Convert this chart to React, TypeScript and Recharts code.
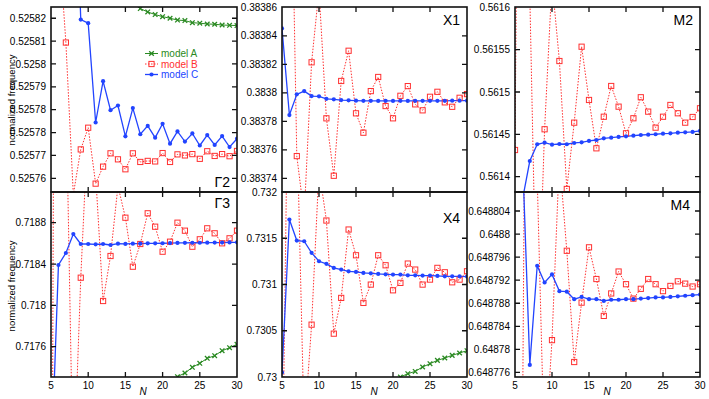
import React from 'react';
import { LineChart, Line, XAxis, YAxis } from 'recharts';

// ---------- categories ----------
const N = [5, 6, 7, 8, 9, 10, 11, 12, 13, 14, 15, 16, 17, 18, 19, 20, 21, 22, 23, 24, 25, 26, 27, 28, 29, 30];
const xTicks = [5, 10, 15, 20, 25, 30];

// ---------- Γ2 ----------
const g2A = [null, null, null, null, null, null, null, null, null, 0.5258308, 0.525828, 0.5258257, 0.5258237, 0.5258224, 0.5258214, 0.5258206, 0.52582, 0.5258193, 0.5258191, 0.5258183, 0.5258181, 0.5258178, 0.5258177, 0.5258174, 0.5258173, 0.5258172];
const g2B = [0.52595, 0.5258523, 0.5258107, 0.5257525, 0.5257698, 0.5257781, 0.5257567, 0.5257632, 0.5257683, 0.525766, 0.5257622, 0.5257683, 0.525765, 0.5257654, 0.5257652, 0.5257684, 0.525765, 0.5257679, 0.5257675, 0.525768, 0.5257662, 0.5257691, 0.5257673, 0.525768, 0.5257672, 0.5257692];
const g2C = [0.526, 0.52595, 0.52592, 0.5259, 0.5258195, 0.5258181, 0.5257801, 0.5257959, 0.5257848, 0.5257866, 0.5257748, 0.5257856, 0.5257756, 0.5257788, 0.5257743, 0.5257796, 0.525772, 0.5257767, 0.5257728, 0.5257759, 0.5257713, 0.5257753, 0.5257715, 0.5257749, 0.5257707, 0.5257739];
const g2Ticks = [0.52582, 0.52581125, 0.5258025, 0.52579375, 0.525785, 0.52577625, 0.5257675, 0.52575875];
const g2Labels = ['0.52582', '0.52581', '0.5258', '0.52579', '0.52578', '0.52578', '0.52577', '0.52576'];

// ---------- X1 ----------
const x1B = [0.38395, 0.3840412, 0.3837556, 0.3837142, 0.3838214, 0.3838721, 0.3837821, 0.3837418, 0.3838083, 0.3838295, 0.3837856, 0.383772, 0.3838012, 0.3838111, 0.3837907, 0.3837821, 0.3837979, 0.3838047, 0.3837919, 0.3837877, 0.3837972, 0.3838007, 0.3837933, 0.3837902, 0.3837965, 0.3837991];
const x1C = [0.3838452, 0.3837844, 0.3837989, 0.3838012, 0.3837977, 0.3837975, 0.3837958, 0.3837954, 0.3837949, 0.3837947, 0.3837945, 0.3837944, 0.3837944, 0.3837943, 0.3837944, 0.3837943, 0.3837944, 0.3837943, 0.3837944, 0.3837944, 0.3837944, 0.3837944, 0.3837944, 0.3837945, 0.3837945, 0.3837945];
const x1Ticks = [0.38386, 0.38384, 0.38382, 0.3838, 0.38378, 0.38376, 0.38374];
const x1Labels = ['0.38386', '0.38384', '0.38382', '0.3838', '0.38378', '0.38376', '0.38374'];

// ---------- M2 ----------
const m2B = [0.5614315, 0.5625, 0.5616145, 0.5611954, 0.561456, 0.561631, 0.5615366, 0.5613855, 0.5614638, 0.5615535, 0.5614906, 0.5614335, 0.5614708, 0.5615071, 0.5614827, 0.5614512, 0.561469, 0.5614938, 0.5614768, 0.5614579, 0.5614708, 0.5614847, 0.5614749, 0.5614638, 0.5614705, 0.5614808];
const m2C = [0.5613, 0.5613725, 0.5614185, 0.5614383, 0.5614402, 0.5614378, 0.5614386, 0.5614383, 0.5614398, 0.5614406, 0.5614422, 0.5614433, 0.5614453, 0.5614461, 0.5614469, 0.5614477, 0.5614484, 0.5614492, 0.5614496, 0.5614501, 0.5614508, 0.5614512, 0.561452, 0.5614524, 0.5614528, 0.561454];
const m2Ticks = [0.5616, 0.56155, 0.5615, 0.56145, 0.5614];
const m2Labels = ['0.5616', '0.56155', '0.5615', '0.56145', '0.5614'];

// ---------- Γ3 ----------
const g3A = [null, null, null, null, null, null, null, null, null, null, null, null, null, null, null, 0.717171, 0.7172486, 0.7173096, 0.7173454, 0.7174006, 0.7174393, 0.7174877, 0.7175128, 0.7175612, 0.7175902, 0.7176232];
const g3B = [0.712884, 0.732569, 0.7201375, 0.7162615, 0.7182677, 0.7198036, 0.7192665, 0.7180422, 0.7184777, 0.7191552, 0.7188484, 0.7183742, 0.7185939, 0.718891, 0.7187613, 0.7185193, 0.7186161, 0.7188, 0.7187226, 0.7185677, 0.7186393, 0.7187458, 0.7186974, 0.7186006, 0.718649, 0.7187226];
const g3C = [0.7163776, 0.7183906, 0.7185068, 0.7186906, 0.7185939, 0.7185939, 0.718591, 0.718594, 0.7185842, 0.7185968, 0.718595, 0.718597, 0.718598, 0.7186, 0.7186, 0.718601, 0.718603, 0.718604, 0.718605, 0.718606, 0.718606, 0.718607, 0.718608, 0.718608, 0.718609, 0.71861];
const g3Ticks = [0.7188, 0.7184, 0.718, 0.7176];
const g3Labels = ['0.7188', '0.7184', '0.718', '0.7176'];

// ---------- X4 ----------
const x4A = [null, null, null, null, null, null, null, null, null, null, null, null, null, null, null, 0.729955, 0.73, 0.7300357, 0.7300606, 0.7301082, 0.7301439, 0.7301797, 0.7302056, 0.7302338, 0.7302598, 0.7302846];
const x4B = [0.7285, 0.7345, 0.7328, 0.7294296, 0.730566, 0.7322479, 0.7316916, 0.7304686, 0.730855, 0.7315942, 0.7313161, 0.7308009, 0.730999, 0.7313161, 0.7312078, 0.7309373, 0.7310174, 0.7312262, 0.7311613, 0.730999, 0.7310531, 0.7311797, 0.7311321, 0.7310239, 0.7310531, 0.7311429];
const x4C = [0.7300498, 0.7317025, 0.7314752, 0.7314676, 0.731342, 0.7312511, 0.731223, 0.7311797, 0.7311613, 0.7311429, 0.7311364, 0.7311256, 0.7311213, 0.7311148, 0.7311104, 0.7311072, 0.7311072, 0.7310996, 0.7310996, 0.7310964, 0.7310964, 0.7310931, 0.7310888, 0.7310888, 0.7310888, 0.7310855];
const x4Ticks = [0.732, 0.7315, 0.731, 0.7305, 0.73];
const x4Labels = ['0.732', '0.7315', '0.731', '0.7305', '0.73'];

// ---------- M4 ----------
const m4B = [0.6487, 0.648763, 0.64895, 0.6488098, 0.6487608, 0.6487816, 0.6488132, 0.6487971, 0.6487778, 0.6487881, 0.6487977, 0.6487922, 0.6487858, 0.6487897, 0.6487935, 0.6487913, 0.6487888, 0.6487905, 0.6487922, 0.6487913, 0.6487901, 0.648791, 0.6487918, 0.6487914, 0.6487909, 0.6487913];
const m4C = [0.64882, 0.6488142, 0.6487773, 0.6487945, 0.6487916, 0.648793, 0.6487901, 0.64879, 0.6487887, 0.6487891, 0.6487887, 0.6487887, 0.6487884, 0.6487886, 0.6487886, 0.6487887, 0.6487887, 0.6487888, 0.6487889, 0.648789, 0.648789, 0.6487891, 0.6487892, 0.6487893, 0.6487894, 0.6487895];
const m4Ticks = [0.648804, 0.6488, 0.648796, 0.648792, 0.648788, 0.648784, 0.64878, 0.648776];
const m4Labels = ['0.648804', '0.6488', '0.648796', '0.648792', '0.648788', '0.648784', '0.64878', '0.648776'];

const seriesNames = ['model A', 'model B', 'model C'];
const panelNames = ['Γ2', 'X1', 'M2', 'Γ3', 'X4', 'M4'];

// ---------- styling ----------
const GREEN = '#2a8a22';
const RED = '#ff3030';
const BLUE = '#2244ff';
const FONT = '"Liberation Sans", Arial, Helvetica, sans-serif';

const plotLefts = [51, 282, 515];
const plotWidths = [186, 185, 185];
const plotTops = [7, 192];
const PLOT_H = 185;
const TICK_LEN = 5;

const bad = (v: any) => v == null || Number.isNaN(v);

const crossDot = (p: any) => {
  const { cx, cy, index } = p;
  if (bad(cx) || bad(cy)) return <g key={`a${index}`} />;
  const s = 2.3;
  return (
    <path key={`a${index}`} d={`M${cx - s},${cy - s}L${cx + s},${cy + s}M${cx - s},${cy + s}L${cx + s},${cy - s}`}
      stroke={GREEN} strokeWidth={1.3} fill="none" />
  );
};
const squareDot = (p: any) => {
  const { cx, cy, index } = p;
  if (bad(cx) || bad(cy)) return <g key={`b${index}`} />;
  const s = 2.6;
  return <rect key={`b${index}`} x={cx - s} y={cy - s} width={2 * s} height={2 * s} stroke={RED} strokeWidth={1} fill="none" />;
};
const circleDot = (p: any) => {
  const { cx, cy, index } = p;
  if (bad(cx) || bad(cy)) return <g key={`c${index}`} />;
  return <circle key={`c${index}`} cx={cx} cy={cy} r={2.1} fill={BLUE} stroke="none" />;
};

type PanelCfg = {
  A: (number | null)[] | null;
  B: number[];
  C: number[];
  domain: [number, number];
  ticks: number[];
  labels: string[];
  col: number;
  row: number;
};

const panels: PanelCfg[] = [
  { A: g2A, B: g2B, C: g2C, domain: [0.5257535, 0.5258243], ticks: g2Ticks, labels: g2Labels, col: 0, row: 0 },
  { A: null, B: x1B, C: x1C, domain: [0.3837304, 0.3838602], ticks: x1Ticks, labels: x1Labels, col: 1, row: 0 },
  { A: null, B: m2B, C: m2C, domain: [0.5613819, 0.5616004], ticks: m2Ticks, labels: m2Labels, col: 2, row: 0 },
  { A: g3A, B: g3B, C: g3C, domain: [0.7173067, 0.7190971], ticks: g3Ticks, labels: g3Labels, col: 0, row: 1 },
  { A: x4A, B: x4B, C: x4C, domain: [0.73, 0.732], ticks: x4Ticks, labels: x4Labels, col: 1, row: 1 },
  { A: null, B: m4B, C: m4C, domain: [0.6487752, 0.6488073], ticks: m4Ticks, labels: m4Labels, col: 2, row: 1 },
];

function Panel({ cfg }: { cfg: PanelCfg }) {
  const data = N.map((n, i) => ({
    N: n,
    A: cfg.A ? cfg.A[i] : null,
    B: cfg.B[i],
    C: cfg.C[i],
  }));
  const fmt = (v: number) => {
    let best = 0;
    cfg.ticks.forEach((t, i) => {
      if (Math.abs(t - v) < Math.abs(cfg.ticks[best] - v)) best = i;
    });
    return cfg.labels[best];
  };
  const yw = cfg.col === 0 ? 51 : 60;
  const left = plotLefts[cfg.col] - yw;
  const width = yw + plotWidths[cfg.col] + 8;
  const isBottom = cfg.row === 1;
  const mt = isBottom ? 9 : 6; // + 1px top axis
  const xh = isBottom ? 22 : 1;
  const mb = isBottom ? 0 : 4;
  const top = plotTops[cfg.row] - mt - 1;
  const height = mt + 1 + PLOT_H + xh + mb;
  const tickStyle = { fontSize: 10, fill: '#000' };
  return (
    <div style={{ position: 'absolute', left, top, width, height }}>
      <LineChart width={width} height={height} data={data} margin={{ top: mt, right: 7, bottom: mb, left: 0 }}
        style={{ fontFamily: FONT }}>
        <XAxis xAxisId="b" dataKey="N" type="number" domain={[5, 30]} ticks={xTicks} allowDataOverflow interval={0}
          orientation="bottom" height={xh} tick={isBottom ? tickStyle : false} tickSize={0} tickMargin={5}
          axisLine={false} tickLine={false} />
        <XAxis xAxisId="t" dataKey="N" type="number" domain={[5, 30]} ticks={xTicks} allowDataOverflow interval={0}
          orientation="top" height={1} tick={false} axisLine={false} tickLine={false} />
        <YAxis yAxisId="l" type="number" domain={cfg.domain} ticks={cfg.ticks} allowDataOverflow interval={0}
          width={yw} tick={tickStyle} tickFormatter={fmt} tickSize={0} tickMargin={5}
          axisLine={false} tickLine={false} />
        <YAxis yAxisId="r" orientation="right" type="number" domain={cfg.domain} ticks={cfg.ticks} allowDataOverflow interval={0}
          width={1} tick={false} axisLine={false} tickLine={false} />
        {cfg.A && (
          <Line xAxisId="b" yAxisId="l" type="linear" dataKey="A" stroke={GREEN} strokeWidth={1} dot={crossDot}
            activeDot={false} isAnimationActive={false} connectNulls={false} />
        )}
        <Line xAxisId="b" yAxisId="l" type="linear" dataKey="B" stroke={RED} strokeWidth={1} strokeDasharray="1.5 1.5"
          dot={squareDot} activeDot={false} isAnimationActive={false} />
        <Line xAxisId="b" yAxisId="l" type="linear" dataKey="C" stroke={BLUE} strokeWidth={1.3} dot={circleDot}
          activeDot={false} isAnimationActive={false} />
      </LineChart>
    </div>
  );
}

// frame + inward ticks for a panel (same linear mapping as the chart's scales)
function Frame({ cfg }: { cfg: PanelCfg }) {
  const L = plotLefts[cfg.col];
  const W = plotWidths[cfg.col];
  const T = plotTops[cfg.row];
  const H = PLOT_H;
  const [lo, hi] = cfg.domain;
  const xs = xTicks.map((t) => L + ((t - 5) / 25) * W).filter((x) => x > L + 1 && x < L + W - 1);
  const ys = cfg.ticks.map((t) => T + ((hi - t) / (hi - lo)) * H).filter((y) => y > T + 1 && y < T + H - 1);
  const segs: string[] = [];
  xs.forEach((x) => {
    segs.push(`M${x},${T + H}V${T + H - TICK_LEN}`);
    segs.push(`M${x},${T}V${T + TICK_LEN}`);
  });
  ys.forEach((y) => {
    segs.push(`M${L},${y}H${L + TICK_LEN}`);
    segs.push(`M${L + W},${y}H${L + W - TICK_LEN}`);
  });
  return (
    <g>
      <rect x={L} y={T} width={W} height={H} fill="none" stroke="#111" strokeWidth={1.6} />
      <path d={segs.join('')} stroke="#111" strokeWidth={1.3} fill="none" />
    </g>
  );
}

const labelPos = [
  { x: 230, y: 187 },
  { x: 460, y: 25 },
  { x: 693, y: 25 },
  { x: 230, y: 208 },
  { x: 460, y: 223 },
  { x: 690, y: 210 },
];

export default function App() {
  return (
    <div style={{ position: 'absolute', left: 0, top: 0, width: 709, height: 399, background: '#fff', fontFamily: FONT }}>
      {panels.map((p, i) => (
        <Panel key={i} cfg={p} />
      ))}
      <svg width={709} height={399} style={{ position: 'absolute', left: 0, top: 0, pointerEvents: 'none' }}>
        {panels.map((p, i) => (
          <Frame key={i} cfg={p} />
        ))}
        {panelNames.map((t, i) => (
          <text key={t} x={labelPos[i].x} y={labelPos[i].y} textAnchor="end" fontSize={14} fontFamily={FONT} fill="#000">{t}</text>
        ))}
        <text transform="translate(15,100) rotate(-90)" textAnchor="middle" fontSize={9.5} fontFamily={FONT} fill="#000">normalized frequency</text>
        <text transform="translate(15,286) rotate(-90)" textAnchor="middle" fontSize={9.5} fontFamily={FONT} fill="#000">normalized frequency</text>
        {[143, 374, 607].map((x) => (
          <text key={x} x={x} y={395} textAnchor="middle" fontSize={10} fontStyle="italic" fontFamily={FONT} fill="#000">N</text>
        ))}
        <g>
          <line x1={145} y1={53.5} x2={158} y2={53.5} stroke={GREEN} strokeWidth={1} />
          <path d="M149.2,51.2L153.8,55.8M149.2,55.8L153.8,51.2" stroke={GREEN} strokeWidth={1.3} />
          <text x={161} y={57} fontSize={10} fontFamily={FONT} fill={GREEN}>{seriesNames[0]}</text>
          <line x1={145} y1={64} x2={158} y2={64} stroke={RED} strokeWidth={1} strokeDasharray="1.5 1.5" />
          <rect x={148.9} y={61.4} width={5.2} height={5.2} stroke={RED} fill="none" />
          <text x={161} y={67.5} fontSize={10} fontFamily={FONT} fill={RED}>{seriesNames[1]}</text>
          <line x1={145} y1={74.5} x2={158} y2={74.5} stroke={BLUE} strokeWidth={1.3} />
          <circle cx={151.5} cy={74.5} r={2.1} fill={BLUE} />
          <text x={161} y={78} fontSize={10} fontFamily={FONT} fill={BLUE}>{seriesNames[2]}</text>
        </g>
      </svg>
    </div>
  );
}
